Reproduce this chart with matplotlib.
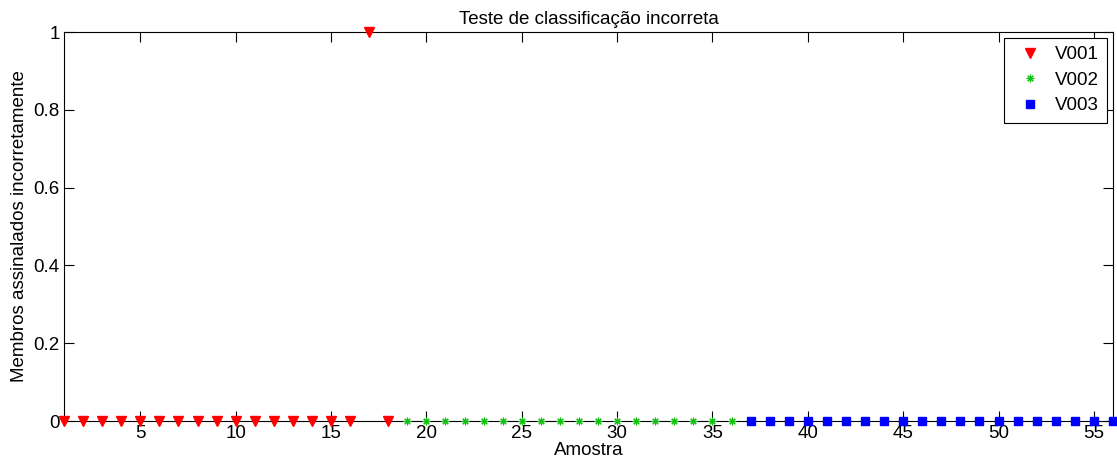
import matplotlib.pyplot as plt
import numpy as np

plt.rcParams['font.family'] = ['Liberation Sans', 'DejaVu Sans']

# Data
x_v001 = np.arange(1, 19)
y_v001 = [0, 0, 0, 0, 0, 0, 0, 0, 0, 0, 0, 0, 0, 0, 0, 0, 1, 0]
x_v002 = np.arange(19, 37)
y_v002 = [0] * 18
x_v003 = np.arange(37, 57)
y_v003 = [0] * 20

x_ticks = [5, 10, 15, 20, 25, 30, 35, 40, 45, 50, 55]
y_ticks = [0, 0.2, 0.4, 0.6, 0.8, 1]
y_tick_labels = ["0", "0.2", "0.4", "0.6", "0.8", "1"]

fs = 13.5

fig = plt.figure(figsize=(11.17, 4.72), dpi=100)
ax = fig.add_axes([0.0573, 0.108, 0.9391, 0.824])

ax.plot(x_v001, y_v001, linestyle='none', marker='v', color='red',
        markersize=6.5, label='V001', clip_on=False, zorder=3)
ax.plot(x_v002, y_v002, linestyle='none', marker=(8, 2, 0), color='#10c010',
        markersize=5.5, markeredgewidth=0.8, label='V002', clip_on=False, zorder=3)
ax.plot(x_v003, y_v003, linestyle='none', marker='s', color='blue',
        markersize=6, label='V003', clip_on=False, zorder=3)

ax.set_xlim(1, 56)
ax.set_ylim(0, 1)
ax.set_xticks(x_ticks)
ax.set_yticks(y_ticks)
ax.set_yticklabels(y_tick_labels)
ax.tick_params(direction='in', top=True, right=True, length=7.5, width=0.8,
               labelsize=fs, pad=3)

for s in ax.spines.values():
    s.set_linewidth(0.8)

ax.set_title("Teste de classificação incorreta", fontsize=fs, pad=6)
ax.set_xlabel("Amostra", fontsize=fs, labelpad=0)
ax.set_ylabel("Membros assinalados incorretamente", fontsize=fs, labelpad=4)

leg = ax.legend(loc='upper right', fontsize=fs, fancybox=False, framealpha=1,
                edgecolor='black', borderaxespad=0.3, handletextpad=0.4,
                handlelength=1.85, borderpad=0.45, labelspacing=0.45)
leg.get_frame().set_linewidth(0.8)

fig.savefig('out.png', dpi=100)
